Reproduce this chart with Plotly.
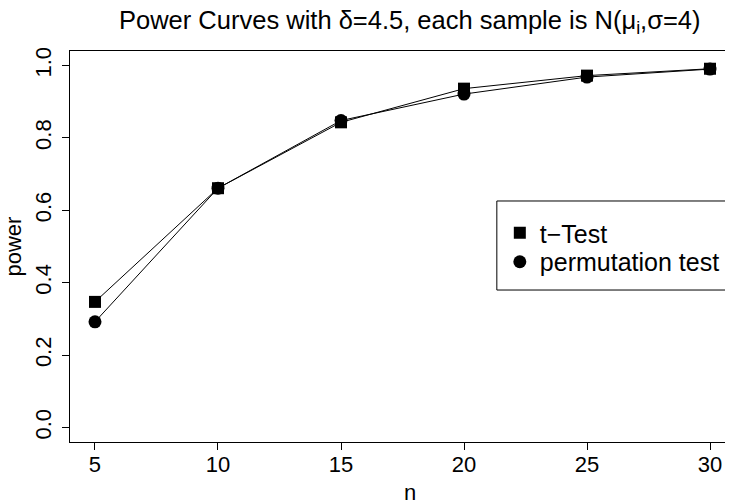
import plotly.graph_objects as go

n_values = [5, 10, 15, 20, 25, 30]
ttest_power = [0.347, 0.661, 0.843, 0.936, 0.972, 0.991]
perm_power = [0.292, 0.661, 0.848, 0.921, 0.968, 0.990]
x_ticks = [5, 10, 15, 20, 25, 30]
y_ticks = [0.0, 0.2, 0.4, 0.6, 0.8, 1.0]
y_ticklabels = ["0.0", "0.2", "0.4", "0.6", "0.8", "1.0"]
series_names = ["t\u2212Test", "permutation test"]

FONT = "Liberation Sans, Arial, Helvetica, sans-serif"

fig = go.Figure()
fig.add_trace(go.Scatter(
    x=n_values, y=ttest_power, mode="lines+markers", name=series_names[0],
    line=dict(color="black", width=1),
    marker=dict(symbol="square", size=12, color="black"),
    showlegend=False,
))
fig.add_trace(go.Scatter(
    x=n_values, y=perm_power, mode="lines+markers", name=series_names[1],
    line=dict(color="black", width=1),
    marker=dict(symbol="circle", size=13, color="black"),
    showlegend=False,
))
# legend entries: symbols only (as in the reference legend)
fig.add_trace(go.Scatter(
    x=[None], y=[None], mode="markers", name=series_names[0],
    marker=dict(symbol="square", size=12, color="black"), legend="legend",
))
fig.add_trace(go.Scatter(
    x=[None], y=[None], mode="markers", name=series_names[1],
    marker=dict(symbol="circle", size=13, color="black"), legend="legend2",
))

leg_common = dict(xanchor="left", yanchor="middle", borderwidth=0,
                  bgcolor="rgba(0,0,0,0)",
                  font=dict(family=FONT, size=25, color="black"))

fig.update_layout(
    width=725, height=493,
    margin=dict(l=62, r=0, t=43, b=59),
    plot_bgcolor="white", paper_bgcolor="white",
    font=dict(family=FONT, size=22, color="black"),
    showlegend=True,
    legend=dict(x=0.6483, y=0.5345, **leg_common),
    legend2=dict(x=0.6483, y=0.4604, **leg_common),
    xaxis=dict(
        range=[3.984, 30.935], tickvals=x_ticks, ticktext=[str(v) for v in x_ticks],
        ticks="outside", ticklen=7, tickcolor="black", tickwidth=1,
        showline=True, mirror=True, linecolor="black", linewidth=1,
        showgrid=False, zeroline=False, tickfont=dict(size=22),
        ticklabelstandoff=-4,
    ),
    yaxis=dict(
        range=[-0.04, 1.04], tickvals=y_ticks, ticktext=y_ticklabels,
        ticks="outside", ticklen=7, tickcolor="black", tickwidth=1, tickangle=-90,
        showline=True, mirror=False, linecolor="black", linewidth=1,
        showgrid=False, zeroline=False, tickfont=dict(size=22),
        ticklabelstandoff=2,
    ),
    shapes=[
        dict(type="rect", xref="paper", yref="paper",
             x0=0.6438, x1=1.02, y0=0.3887, y1=0.6164,
             line=dict(color="black", width=1), fillcolor="rgba(0,0,0,0)"),
    ],
    annotations=[
        dict(text="Power Curves with \u03b4=4.5, each sample is N(\u03bc<sub>i</sub>,\u03c3=4)",
             xref="paper", yref="paper", x=0.5, y=1, yshift=29, xshift=8,
             xanchor="center", yanchor="middle",
             showarrow=False, font=dict(size=25.5)),
        dict(text="n", xref="paper", yref="paper", x=0.5, y=0, yshift=-50, xshift=8,
             xanchor="center", yanchor="middle", showarrow=False, font=dict(size=22)),
        dict(text="power", xref="paper", yref="paper", x=0, y=0.5, xshift=-57,
             xanchor="center", yanchor="middle", textangle=-90, showarrow=False,
             font=dict(size=22)),
    ],
)

fig.write_html("out.html")
